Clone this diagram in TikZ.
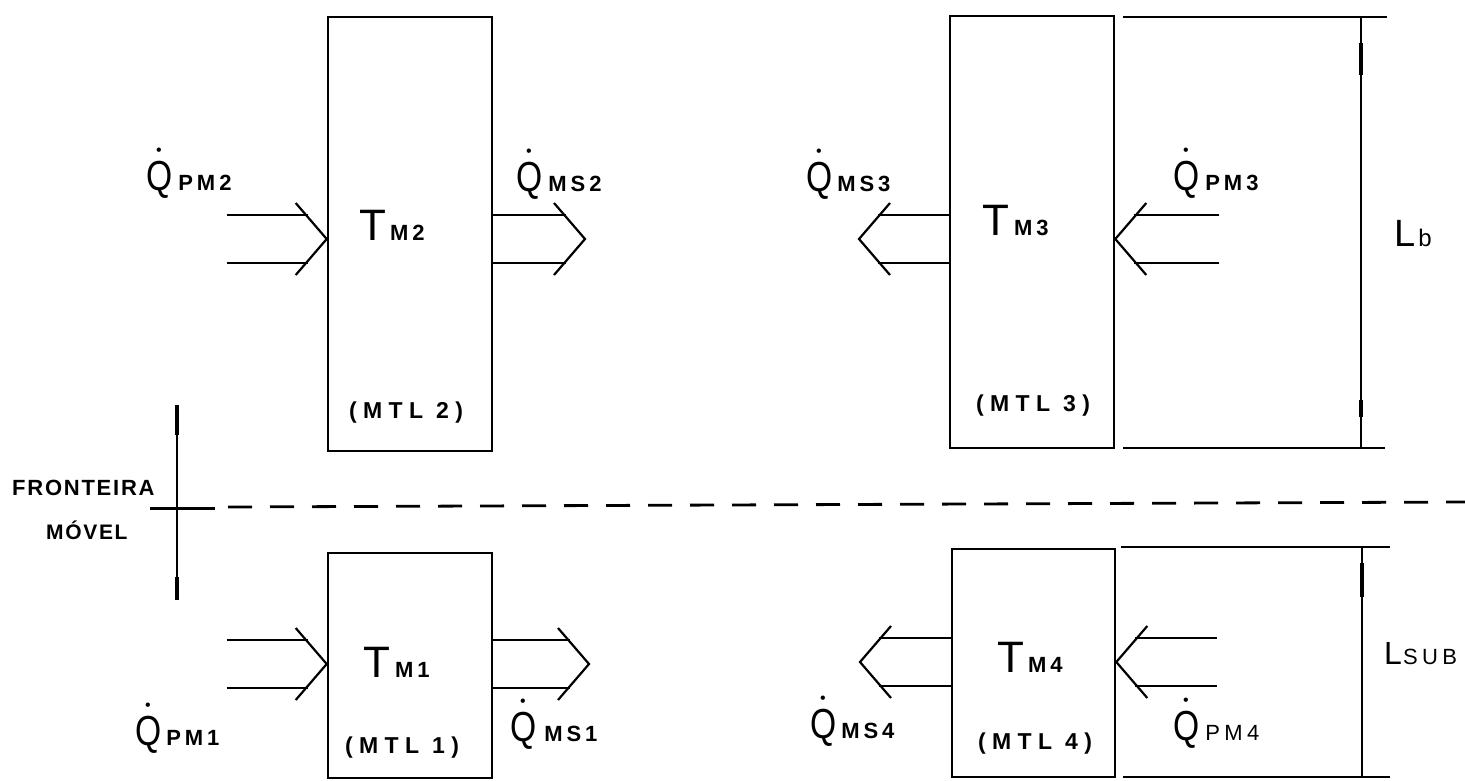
\documentclass[tikz,border=0pt]{standalone}
\usepackage{fontspec}
\usepackage{graphicx}
\setmainfont{Liberation Sans}
\newfontfamily\lblfont[LetterSpace=8]{Liberation Sans}
\newfontfamily\mtlfont[LetterSpace=28]{Liberation Sans}
\newfontfamily\subfnt[LetterSpace=18]{Liberation Sans}
\newfontfamily\subreg[LetterSpace=20]{Liberation Sans}
\newcommand\BigQ{{\fontsize{42}{42}\selectfont\rlap{\kern10pt\raisebox{35pt}{\fontsize{16}{16}\selectfont •}}\scalebox{0.8}[1]{Q}}}
\newcommand\BigT{{\fontsize{44}{44}\selectfont T}}
\newcommand\Sb[1]{{\subfnt\bfseries\fontsize{22}{22}\selectfont #1}}
\newcommand\Sr[1]{{\subreg\fontsize{22}{22}\selectfont #1}}
\newcommand\Mtl[1]{{\mtlfont\bfseries\fontsize{23}{23}\selectfont #1}}
\tikzset{
  box/.style={draw,line width=2.6pt,inner sep=0pt},
  arr/.style={line width=2.2pt},
  ext/.style={line width=2pt},
  dimln/.style={line width=1.8pt},
  dimtick/.style={line width=4.5pt},
  txt/.style={anchor=base west,inner sep=0pt},
  pics/fat/.style={code={
    \draw[arr] (-#1,-24) -- (-19,-24) (-#1,24) -- (-19,24);
    \draw[arr] (-31,-36) -- (0,0) -- (-31,36);
  }}
}
\begin{document}
\begin{tikzpicture}[x=1pt,y=-1pt]
\useasboundingbox (0,0) rectangle (1465,780);
% boxes
\node[box,minimum width=164pt,minimum height=434pt] (m2) at (410,234) {};
\node[box,minimum width=164pt,minimum height=432pt] (m3) at (1032,232) {};
\node[box,minimum width=164pt,minimum height=225pt] (m1) at (410,665.5) {};
\node[box,minimum width=163pt,minimum height=228pt] (m4) at (1033.5,663) {};
% box labels
\node (t2) [txt] at (359,240) {\BigT\kern4pt\Sb{M2}};
\node (t3) [txt] at (982,235) {\BigT\kern5pt\Sb{M3}};
\node (t1) [txt] at (363,677) {\BigT\kern5pt\Sb{M1}};
\node (t4) [txt] at (997,672) {\BigT\kern4pt\Sb{M4}};
\node (l2) at (406,413) {\Mtl{(MTL 2)}};
\node (l3) at (1033,406) {\Mtl{(MTL 3)}};
\node (l1) at (402,748) {\Mtl{(MTL 1)}};
\node (l4) at (1035,744) {\Mtl{(MTL 4)}};
% heat flow labels
\node (qpm2) [txt] at (146,190) {\BigQ\kern6pt\Sb{PM2}};
\node (qms2) [txt] at (516,191) {\BigQ\kern6pt\Sb{MS2}};
\node (qms3) [txt] at (806,191) {\BigQ\kern5pt\Sb{MS3}};
\node (qpm3) [txt] at (1173,190) {\BigQ\kern6pt\Sb{PM3}};
\node (qpm1) [txt] at (135,745) {\BigQ\kern5pt\Sb{PM1}};
\node (qms1) [txt] at (510,741) {\BigQ\kern8pt\Sb{MS1}};
\node (qms4) [txt] at (810,738) {\BigQ\kern5pt\Sb{MS4}};
\node (qpm4) [txt] at (1173,740) {\BigQ\kern6pt\Sr{PM4}};
% arrows
\coordinate (a2in) at (m2.west |- 0,239);
\coordinate (a2out) at (585,239);
\coordinate (a3out) at (859,239);
\coordinate (a3in) at (m3.east |- 0,239);
\coordinate (a1in) at (m1.west |- 0,664);
\coordinate (a1out) at (589,664);
\coordinate (a4out) at (860,662);
\coordinate (a4in) at (m4.east |- 0,662);
\pic at (a2in) {fat=100};
\pic at (a2out) {fat=93};
\pic[xscale=-1] at (a3out) {fat=91};
\pic[xscale=-1] at (a3in) {fat=104};
\pic at (a1in) {fat=100};
\pic at (a1out) {fat=97};
\pic[xscale=-1] at (a4out) {fat=92};
\pic[xscale=-1] at (a4in) {fat=101};
% dimension Lb
\coordinate (e1a) at (1123,17);  \coordinate (e1b) at (1387,17);
\coordinate (e2a) at (1123,448); \coordinate (e2b) at (1385,448);
\draw[ext] (e1a) -- (e1b);
\draw[ext] (e2a) -- (e2b);
\coordinate (d1a) at (1361,17); \coordinate (d1b) at (1361,448);
\draw[dimln] (d1a) -- (d1b);
\draw[dimtick] (1361,43) -- (1361,75);
\draw[dimtick] (1361,400) -- (1361,417);
\node (lb) [txt] at (1394,246) {{\fontsize{38}{38}\selectfont L}\kern3pt{\fontsize{24}{24}\selectfont b}};
% dimension Lsub
\coordinate (e3a) at (1121,547); \coordinate (e3b) at (1390,547);
\coordinate (e4a) at (1123,777); \coordinate (e4b) at (1390,777);
\draw[ext] (e3a) -- (e3b);
\draw[ext] (e4a) -- (e4b);
\coordinate (d2a) at (1362,547); \coordinate (d2b) at (1362,777);
\draw[dimln] (d2a) -- (d2b);
\draw[dimtick] (1362,563) -- (1362,597);
\node (lsub) [txt] at (1384,664) {{\fontsize{32}{32}\selectfont L}\kern1pt\Sr{SUB}};
% moving boundary
\coordinate (fv1) at (177,405); \coordinate (fv2) at (177,600);
\draw[line width=1.8pt] (fv1) -- (fv2);
\draw[dimtick] (177,405) -- (177,435);
\draw[dimtick] (177,577) -- (177,600);
\coordinate (fh1) at (150,508); \coordinate (fh2) at (215,508);
\draw[line width=3pt] (fh1) -- (fh2);
\coordinate (dsa) at (228,507); \coordinate (dsb) at (1465,502);
\draw[line width=2.8pt,dash pattern=on 24pt off 18pt] (dsa) -- (dsb);
\node (fr) [txt] at (12,495) {\lblfont\bfseries\fontsize{22}{22}\selectfont FRONTEIRA};
\node (mv) [txt] at (46,539) {\lblfont\bfseries\fontsize{21}{21}\selectfont MÓVEL};
\end{tikzpicture}
\end{document}
